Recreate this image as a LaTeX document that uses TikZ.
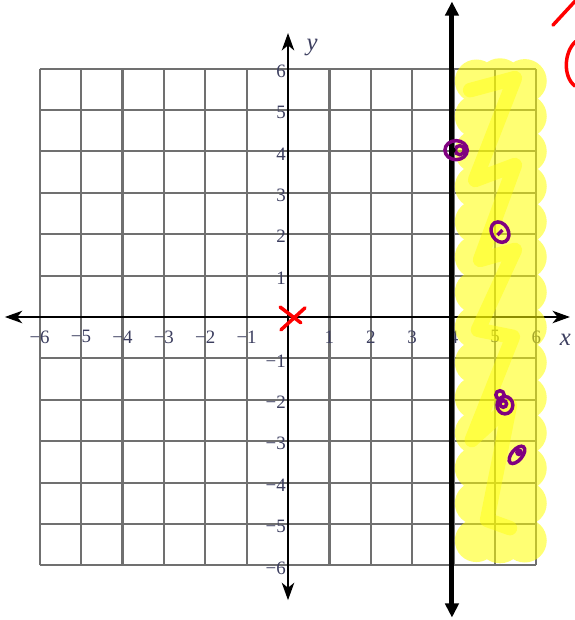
\documentclass[tikz,border=0pt]{standalone}
\usepackage{fontspec}
\setmainfont{Liberation Serif}
\usetikzlibrary{arrows.meta}
\definecolor{gridgray}{RGB}{112,112,112}
\definecolor{lblblue}{RGB}{60,62,95}
\definecolor{penpurple}{RGB}{128,0,128}
\definecolor{hiyellow}{RGB}{255,255,0}
\definecolor{penred}{RGB}{255,0,0}

\begin{document}
\begin{tikzpicture}[
  tick/.style={font=\fontsize{13}{15}\selectfont, text=lblblue, inner sep=1pt},
  axlbl/.style={font=\fontsize{17}{19}\selectfont\itshape, text=lblblue, inner sep=0pt},
  purp/.style={draw=penpurple, line width=2.4pt},
  redpen/.style={draw=penred, line width=2.4pt, line cap=round}]
  \useasboundingbox (-6.957,-7.319) rectangle (6.932,7.657);
  \clip (-6.957,-7.319) rectangle (6.932,7.657);
  % grid
  \draw[gridgray, line width=1.5pt] (-6,-6) grid (6,6);
  % axes
  \coordinate (xl) at (-6.84,0);
  \coordinate (xr) at (6.81,0);
  \coordinate (yb) at (0,-6.84);
  \coordinate (yt) at (0,6.86);
  \draw[line width=1.4pt, {Stealth[length=0.42cm,width=0.3cm,inset=0.12cm]}-{Stealth[length=0.42cm,width=0.3cm,inset=0.12cm]}] (xl) -- (xr);
  \draw[line width=1.4pt, {Stealth[length=0.42cm,width=0.3cm,inset=0.12cm]}-{Stealth[length=0.42cm,width=0.3cm,inset=0.12cm]}] (yb) -- (yt);
  \node[axlbl] (xlab) at (6.7,-0.56) {x};
  \node[axlbl] (ylab) at (0.58,6.52) {y};
  % tick labels
  \foreach \i in {1,...,6} {
    \node[tick] (xp\i) at (\i,-0.48) {\i};
    \node[tick] (xn\i) at (-\i,-0.48) {−\i};
    \node[tick, anchor=east] (yp\i) at (-0.01,\i-0.06) {\i};
    \node[tick, anchor=east] (yn\i) at (-0.01,-\i-0.06) {−\i};
  }
  % yellow highlight
  \fill[hiyellow, opacity=0.55]
    \foreach \y in {5.7,4.85,4.0,3.15,2.3,1.45,0.6,-0.25,-1.1,-1.95,-2.8,-3.65,-4.5,-5.4} {
      (4.55,\y) circle (0.52) (5.12,\y) circle (0.55) (5.72,\y) circle (0.53)
    };
  \draw[hiyellow, opacity=0.42, line width=10pt, line cap=round, line join=round]
    (4.40,5.48) -- (5.48,5.77) -- (4.52,3.31) -- (5.48,3.67) -- (4.64,1.38)
    -- (5.48,1.62) -- (4.59,-0.31) -- (5.43,-0.48) -- (4.44,-2.97) -- (5.36,-2.13)
    -- (4.81,-4.90) -- (5.36,-5.10);
  % boundary line x = 4
  \coordinate (bt) at (3.96,7.62);
  \coordinate (bb) at (3.96,-7.26);
  \draw[line width=3.4pt, {Triangle[length=0.34cm,width=0.32cm]}-{Triangle[length=0.34cm,width=0.32cm]}] (bb) -- (bt);
  % purple test points
  \draw[purp] (4.06,4.03) ellipse (0.27 and 0.23);
  \draw[purp] (4.15,4.03) circle (0.11);
  \fill[black] (3.98,4.03) circle (0.07);
  \draw[purp, rotate around={-60:(5.12,2.05)}] (5.12,2.05) ellipse (0.26 and 0.2);
  \draw[purp] (5.06,1.98) -- (5.18,2.1);
  \draw[purp] (5.12,-1.88) circle (0.1);
  \draw[purp] (5.24,-2.13) ellipse (0.19 and 0.21);
  \draw[purp] (5.2,-2.1) circle (0.08);
  \draw[purp, rotate around={50:(5.53,-3.33)}] (5.53,-3.33) ellipse (0.25 and 0.13);
  \draw[purp] (5.58,-3.27) circle (0.05);
  % red marks
  \coordinate (xa) at (-0.19,0.24);
  \coordinate (xb) at (0.31,-0.14);
  \coordinate (xc) at (0.41,0.22);
  \coordinate (xd) at (-0.17,-0.31);
  \draw[redpen] (xa) -- (xb);
  \draw[redpen] (xc) -- (xd);
  \draw[redpen] (6.40,7.05) -- (7.0,7.7);
  \draw[redpen] (6.95,6.66) .. controls (6.66,6.4) and (6.64,5.8) .. (6.93,5.58);
\end{tikzpicture}
\end{document}
